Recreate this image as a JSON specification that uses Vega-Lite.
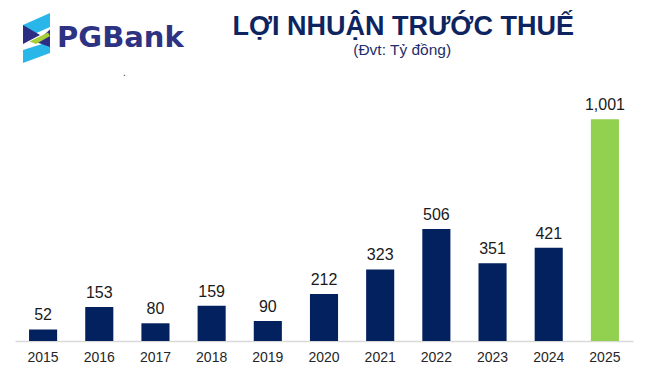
{
  "$schema": "https://vega.github.io/schema/vega-lite/v6.json",
  "width": 618,
  "height": 341,
  "autosize": {"type": "none"},
  "padding": {"left": 15, "top": 0, "right": 19, "bottom": 34},
  "background": "white",
  "config": {"view": {"stroke": null}},
  "datasets": {
    "profits": [
      {"year": "2015", "profit": 52},
      {"year": "2016", "profit": 153},
      {"year": "2017", "profit": 80},
      {"year": "2018", "profit": 159},
      {"year": "2019", "profit": 90},
      {"year": "2020", "profit": 212},
      {"year": "2021", "profit": 323},
      {"year": "2022", "profit": 506},
      {"year": "2023", "profit": 351},
      {"year": "2024", "profit": 421},
      {"year": "2025", "profit": 1001}
    ],
    "pieces": [
      {"piece": "topblue"}, {"piece": "bottomblue"}, {"piece": "navyleft"}, {"piece": "navyright"}, {"piece": "green"}
    ],
    "labels": [
      {"kind": "logo", "t": "PGBank", "year": "2015", "level": 1329},
      {"kind": "title", "t": "LỢI NHUẬN TRƯỚC THUẾ", "year": "2021", "level": 1382},
      {"kind": "subtitle", "t": "(Đvt: Tỷ đồng)", "year": "2021", "level": 1292},
      {"kind": "dot", "t": ".", "year": "2016", "level": 1196}
    ]
  },
  "layer": [
    {
      "data": {"name": "profits"},
      "mark": {"type": "bar", "strokeWidth": 0},
      "encoding": {
        "x": {"field": "year", "type": "nominal", "sort": null,
          "scale": {"paddingInner": 0.5, "paddingOuter": 0.25},
          "axis": {"title": null, "labelAngle": 0, "ticks": false, "grid": false,
            "domainColor": "#d9d9d9", "domainWidth": 1.5,
            "labelFont": "Liberation Sans", "labelFontSize": 14, "labelColor": "#262626", "labelPadding": 9}},
        "y": {"field": "profit", "type": "quantitative", "scale": {"domain": [0, 1540], "nice": false, "zero": true}, "axis": null},
        "color": {"condition": {"test": "datum.year === '2025'", "value": "#92d050"}, "value": "#03205f"}
      }
    },
    {
      "data": {"name": "profits"},
      "mark": {"type": "text", "font": "Liberation Sans", "fontSize": 16, "color": "#1a1a1a", "baseline": "alphabetic", "dy": -9},
      "encoding": {
        "x": {"field": "year", "type": "nominal", "sort": null},
        "y": {"field": "profit", "type": "quantitative"},
        "text": {"field": "profit", "type": "quantitative", "format": ","}
      }
    },
    {
      "data": {"name": "pieces"},
      "mark": {"type": "point", "filled": true, "opacity": 1, "strokeWidth": 0, "size": 2304},
      "encoding": {
        "x": {"datum": "2015", "type": "nominal"},
        "y": {"datum": 1368, "type": "quantitative"},
        "shape": {"field": "piece", "type": "nominal", "legend": null,
          "scale": {"domain": ["topblue", "bottomblue", "navyleft", "navyright", "green"],
            "range": [
              "M-0.8375,-0.5417L0.2875,-1.0417L0.2875,-0.4583L-0.8375,0.0417Z",
              "M-0.8375,0.5L0.2875,0.1458L0.2875,0.625L-0.8375,1.0417Z",
              "M-0.8375,-0.5417L-0.1292,-0.125L-0.8375,0.25Z",
              "M0.2875,-0.3542L0.2875,0.375L-0.2958,0.1667Z",
              "M-0.5667,0.1458L0.2042,-0.2292L0.2875,-0.0833L-0.2958,0.25Z"
            ]}},
        "color": {"field": "piece", "type": "nominal", "legend": null,
          "scale": {"domain": ["topblue", "bottomblue", "navyleft", "navyright", "green"],
            "range": ["#29b6e8", "#29b6e8", "#2d2e83", "#2d2e83", "#a7cf38"]}}
      }
    },
    {
      "data": {"name": "labels"},
      "transform": [{"filter": "datum.kind === 'logo'"}],
      "mark": {"type": "text", "font": "DejaVu Sans", "fontWeight": "bold", "fontSize": 29, "color": "#2e3282", "align": "left", "baseline": "alphabetic", "dx": 14},
      "encoding": {"x": {"field": "year", "type": "nominal"}, "y": {"field": "level", "type": "quantitative"}, "text": {"field": "t"}}
    },
    {
      "data": {"name": "labels"},
      "transform": [{"filter": "datum.kind === 'title'"}],
      "mark": {"type": "text", "font": "Liberation Sans", "fontWeight": "bold", "fontSize": 27, "color": "#0e2461", "align": "center", "baseline": "alphabetic", "dx": 23},
      "encoding": {"x": {"field": "year", "type": "nominal"}, "y": {"field": "level", "type": "quantitative"}, "text": {"field": "t"}}
    },
    {
      "data": {"name": "labels"},
      "transform": [{"filter": "datum.kind === 'subtitle'"}],
      "mark": {"type": "text", "font": "Liberation Sans", "fontSize": 15.5, "color": "#1f2d6b", "align": "center", "baseline": "alphabetic", "dx": 22},
      "encoding": {"x": {"field": "year", "type": "nominal"}, "y": {"field": "level", "type": "quantitative"}, "text": {"field": "t"}}
    },
    {
      "data": {"name": "labels"},
      "transform": [{"filter": "datum.kind === 'dot'"}],
      "mark": {"type": "text", "font": "Liberation Sans", "fontSize": 10, "color": "#333333", "align": "center", "baseline": "alphabetic", "dx": 25},
      "encoding": {"x": {"field": "year", "type": "nominal"}, "y": {"field": "level", "type": "quantitative"}, "text": {"field": "t"}}
    }
  ]
}
